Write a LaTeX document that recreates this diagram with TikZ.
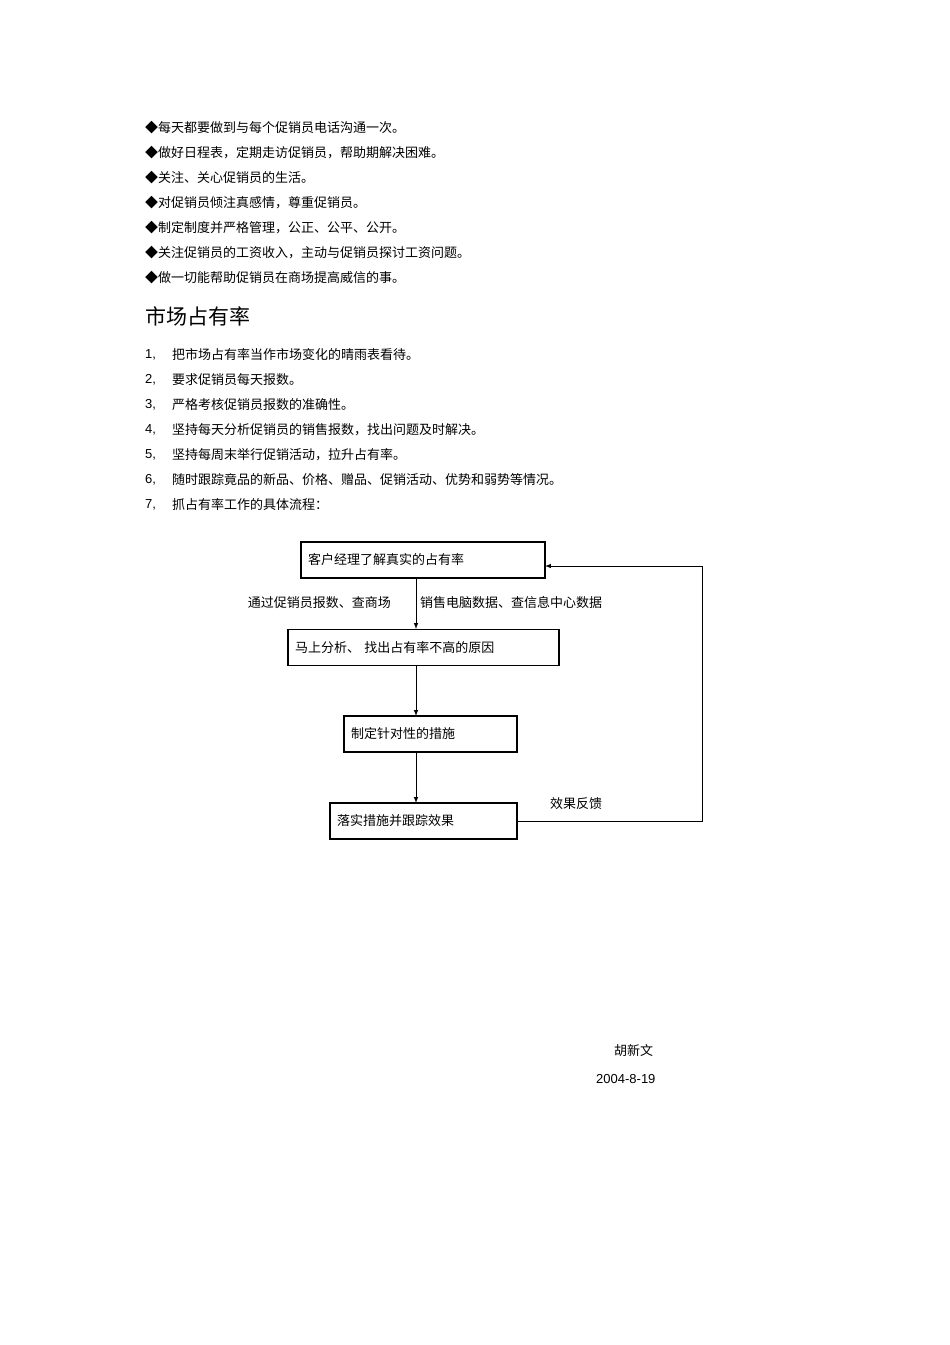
\documentclass[tikz,border=0pt]{standalone}
\usepackage{fontspec}
\setmainfont{Noto Sans CJK SC}
\newfontfamily\latin{Liberation Sans}
\begin{document}
\begin{tikzpicture}[x=1pt,y=-1pt,
  txt/.style={anchor=west,inner sep=0pt,font=\fontsize{13}{15}\selectfont},
  box/.style={draw,line width=1.2pt,minimum height=36pt,inner sep=0pt,font=\fontsize{13}{15}\selectfont},
  arr/.style={line width=1pt,-latex}]
\useasboundingbox[fill=white] (0,0) rectangle (950,1345);
\foreach \t [count=\i] in {每天都要做到与每个促销员电话沟通一次。,做好日程表，定期走访促销员，帮助期解决困难。,关注、关心促销员的生活。,对促销员倾注真感情，尊重促销员。,制定制度并严格管理，公正、公平、公开。,关注促销员的工资收入，主动与促销员探讨工资问题。,做一切能帮助促销员在商场提高威信的事。}
  \node[txt] (b\i) at (145,{103+25*\i}) {◆\t};
\node[txt,font=\fontsize{21}{24}\selectfont] (h) at (145,316) {市场占有率};
\foreach \t [count=\i] in {把市场占有率当作市场变化的晴雨表看待。,要求促销员每天报数。,严格考核促销员报数的准确性。,坚持每天分析促销员的销售报数，找出问题及时解决。,坚持每周末举行促销活动，拉升占有率。,随时跟踪竟品的新品、价格、赠品、促销活动、优势和弱势等情况。,抓占有率工作的具体流程：}
  {\node[txt] (n\i) at (145,{330+25*\i}) {{\latin\i,}};
   \node[txt] (t\i) at (172,{330+25*\i}) {\t};}
\node[box,minimum width=244pt,text width=230pt,align=left] (s1) at (423,560) {客户经理了解真实的占有率};
\node[box,minimum width=271pt,text width=257pt,align=left] (s2) at (423.5,647.5) {马上分析、 找出占有率不高的原因};
\node[box,minimum width=173pt,text width=159pt,align=left] (s3) at (430.5,734) {制定针对性的措施};
\node[box,minimum width=187pt,text width=173pt,align=left] (s4) at (423.5,821) {落实措施并跟踪效果};
\draw[arr] (416,578) -- (416,629);
\draw[arr] (416,666) -- (416,716);
\draw[arr] (416,752) -- (416,803);
\node[txt,anchor=east] (l1) at (391,603) {通过促销员报数、查商场};
\node[txt] (l2) at (420,603) {销售电脑数据、查信息中心数据};
\coordinate (c1) at (702,821);
\coordinate (c2) at (702,566);
\draw[line width=1pt] (s4.east) -- (c1) -- (c2);
\draw[arr] (c2) -- (545,566);
\node[txt] (fb) at (550,804) {效果反馈};
\node[txt] (sig) at (614,1051) {胡新文};
\node[txt] (dt) at (596,1079) {\latin 2004-8-19};
\end{tikzpicture}
\end{document}
